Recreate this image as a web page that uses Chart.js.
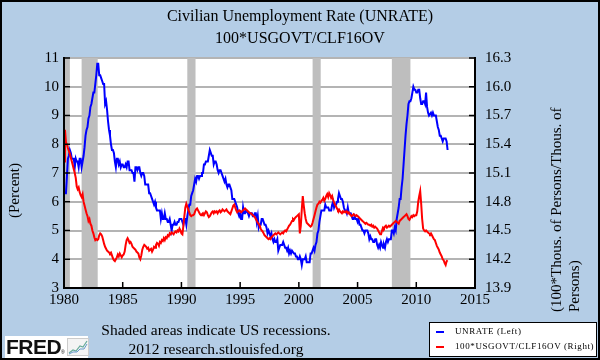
<!DOCTYPE html>
<html>
<head>
<meta charset="utf-8">
<script src="https://cdn.jsdelivr.net/npm/chart.js@4.4.1/dist/chart.umd.min.js"></script>
<style>
  body { margin: 0; }
  #wrap { position: relative; width: 600px; height: 360px; background: #B4CDE6; overflow: hidden; font-family: 'Liberation Serif', 'Times New Roman', serif; color: #000; }
  #chart { position: absolute; left: 0; top: 0; }
  .txt { position: absolute; white-space: nowrap; }
  #title { left: 0; top: 5px; width: 600px; text-align: center; font-size: 16px; line-height: 22px; }
  .vert { writing-mode: vertical-rl; transform: rotate(180deg); font-size: 15px; line-height: 18px; }
  #ytitle { left: 5px; top: 150px; width: 18px; height: 82px; text-align: center; }
  #y2title { left: 547px; top: 80px; width: 36px; height: 232px; text-align: left; }
  #note { left: 91px; top: 320px; width: 250px; text-align: center; font-size: 15.5px; line-height: 19px; }
  #legend { position: absolute; left: 429px; top: 322px; width: 166px; height: 33px; background: #fff; border: 1px solid #000; font-size: 9px; }
  .item { position: absolute; left: 6px; white-space: nowrap; letter-spacing: 0.6px; }
  .item span { display: inline-block; width: 8px; height: 2px; margin-right: 11px; vertical-align: middle; }
  #fred { position: absolute; left: 5px; top: 336px; width: 83px; height: 22px; background: #fff; }
  #fred b { position: absolute; left: 1px; top: 0; font: bold 21px 'Liberation Sans', Arial, sans-serif; line-height: 22px; letter-spacing: -0.5px; color: #111; }
  #fred i { position: absolute; left: 56px; top: 13px; font: 5px 'Liberation Sans', sans-serif; font-style: normal; }
  #fred svg { position: absolute; left: 62px; top: 2px; }
  #frame { position: absolute; left: 0; top: 0; width: 600px; height: 360px; box-sizing: border-box; border: 2px solid #000; pointer-events: none; }
</style>
</head>
<body>
<div id="wrap">
  <canvas id="chart" width="600" height="360"></canvas>
  <div id="title" class="txt">Civilian Unemployment Rate (UNRATE)<br>100*USGOVT/CLF16OV</div>
  <div id="ytitle" class="txt vert">(Percent)</div>
  <div id="y2title" class="txt vert">(100*Thous. of Persons/Thous. of<br>Persons)</div>
  <div id="note" class="txt">Shaded areas indicate US recessions.<br>2012 research.stlouisfed.org</div>
  <div id="legend"></div>
  <div id="fred"><b>FRED</b><i>&reg;</i>
    <svg width="22" height="18" viewBox="0 0 22 18">
      <rect x="0.5" y="0.5" width="21" height="17" fill="#f4f4f4" stroke="#ccc"/>
      <polyline points="2,15 6,12 9,13 13,8 16,9 20,3" fill="none" stroke="#6a9" stroke-width="1.2"/>
      <polyline points="2,16 6,14 10,14 13,11 17,11 20,6" fill="none" stroke="#69c" stroke-width="1"/>
    </svg>
  </div>
  <div id="frame"></div>
</div>
<script>
// Monthly data, Jan 1980 - Sep 2012
const startYear = 1980;

// UNRATE, percent (left axis)
const unrate = [
  6.3, 6.3, 6.3, 6.9, 7.5, 7.6, 7.8, 7.7, 7.5, 7.5, 7.5, 7.2,
  7.5, 7.4, 7.4, 7.2, 7.5, 7.5, 7.2, 7.4, 7.6, 7.9, 8.3, 8.5,
  8.6, 8.9, 9.0, 9.3, 9.4, 9.6, 9.8, 9.8, 10.1, 10.4, 10.8, 10.8,
  10.4, 10.4, 10.3, 10.2, 10.1, 10.1, 9.4, 9.5, 9.2, 8.8, 8.5, 8.3,
  8.0, 7.8, 7.8, 7.7, 7.4, 7.2, 7.5, 7.5, 7.3, 7.4, 7.2, 7.3,
  7.3, 7.2, 7.2, 7.3, 7.2, 7.4, 7.4, 7.1, 7.1, 7.1, 7.0, 7.0,
  6.7, 7.2, 7.2, 7.1, 7.2, 7.2, 7.0, 6.9, 7.0, 7.0, 6.9, 6.6,
  6.6, 6.6, 6.6, 6.3, 6.3, 6.2, 6.1, 6.0, 5.9, 6.0, 5.8, 5.7,
  5.7, 5.7, 5.7, 5.4, 5.6, 5.4, 5.4, 5.6, 5.4, 5.4, 5.3, 5.3,
  5.4, 5.2, 5.0, 5.2, 5.2, 5.3, 5.2, 5.2, 5.3, 5.3, 5.4, 5.4,
  5.4, 5.3, 5.2, 5.4, 5.4, 5.2, 5.5, 5.7, 5.9, 5.9, 6.2, 6.3,
  6.4, 6.6, 6.8, 6.7, 6.9, 6.9, 6.8, 6.9, 6.9, 7.0, 7.0, 7.3,
  7.3, 7.4, 7.4, 7.4, 7.6, 7.8, 7.7, 7.6, 7.6, 7.3, 7.4, 7.4,
  7.3, 7.1, 7.0, 7.1, 7.1, 7.0, 6.9, 6.8, 6.7, 6.8, 6.6, 6.5,
  6.6, 6.6, 6.5, 6.4, 6.1, 6.1, 6.1, 6.0, 5.9, 5.8, 5.6, 5.5,
  5.6, 5.4, 5.4, 5.8, 5.6, 5.6, 5.7, 5.7, 5.6, 5.5, 5.6, 5.6,
  5.6, 5.5, 5.5, 5.6, 5.6, 5.3, 5.5, 5.1, 5.2, 5.2, 5.4, 5.4,
  5.3, 5.2, 5.2, 5.1, 4.9, 5.0, 4.9, 4.8, 4.9, 4.7, 4.6, 4.7,
  4.6, 4.6, 4.7, 4.3, 4.4, 4.5, 4.5, 4.5, 4.6, 4.5, 4.4, 4.4,
  4.3, 4.4, 4.2, 4.3, 4.2, 4.3, 4.3, 4.2, 4.2, 4.1, 4.1, 4.0,
  4.0, 4.1, 4.0, 3.8, 4.0, 4.0, 4.0, 4.1, 3.9, 3.9, 3.9, 3.9,
  4.2, 4.2, 4.3, 4.4, 4.3, 4.5, 4.6, 4.9, 5.0, 5.3, 5.5, 5.7,
  5.7, 5.7, 5.7, 5.9, 5.8, 5.8, 5.8, 5.7, 5.7, 5.7, 5.9, 6.0,
  5.8, 5.9, 5.9, 6.0, 6.1, 6.3, 6.2, 6.1, 6.1, 6.0, 5.8, 5.7,
  5.7, 5.6, 5.8, 5.6, 5.6, 5.6, 5.5, 5.4, 5.4, 5.5, 5.4, 5.4,
  5.3, 5.4, 5.2, 5.2, 5.1, 5.0, 5.0, 4.9, 5.0, 5.0, 5.0, 4.9,
  4.7, 4.8, 4.7, 4.7, 4.6, 4.6, 4.7, 4.7, 4.5, 4.4, 4.5, 4.4,
  4.6, 4.5, 4.4, 4.5, 4.4, 4.6, 4.7, 4.6, 4.7, 4.7, 4.7, 5.0,
  5.0, 4.9, 5.1, 5.0, 5.4, 5.6, 5.8, 6.1, 6.1, 6.5, 6.8, 7.3,
  7.8, 8.3, 8.7, 9.0, 9.4, 9.5, 9.5, 9.6, 9.8, 10.0, 9.9, 9.9,
  9.8, 9.8, 9.9, 9.9, 9.6, 9.4, 9.4, 9.5, 9.5, 9.4, 9.8, 9.3,
  9.1, 9.0, 9.0, 9.1, 9.0, 9.1, 9.0, 9.0, 9.0, 8.8, 8.6, 8.5,
  8.3, 8.3, 8.2, 8.1, 8.2, 8.2, 8.2, 8.1, 7.8
];

// 100*USGOVT/CLF16OV (right axis)
const govShare = [
  15.22, 15.55, 15.42, 15.40, 15.36, 15.33, 15.30, 15.26, 15.22, 15.18, 15.14, 15.10,
  15.05, 14.96, 14.93, 14.95, 14.90, 14.87, 14.85, 14.88, 14.80, 14.76, 14.72, 14.68,
  14.65, 14.60, 14.62, 14.57, 14.55, 14.50, 14.47, 14.43, 14.40, 14.41, 14.40, 14.41,
  14.45, 14.47, 14.46, 14.44, 14.40, 14.36, 14.33, 14.31, 14.29, 14.28, 14.27, 14.26,
  14.27, 14.24, 14.21, 14.19, 14.18, 14.20, 14.22, 14.25, 14.23, 14.26, 14.24, 14.22,
  14.24, 14.25, 14.28, 14.35, 14.40, 14.42, 14.40, 14.37, 14.38, 14.36, 14.33, 14.32,
  14.31, 14.30, 14.28, 14.27, 14.26, 14.22, 14.20, 14.24, 14.30, 14.33, 14.35, 14.34,
  14.33, 14.31, 14.32, 14.29, 14.30, 14.31, 14.28, 14.30, 14.33, 14.32, 14.35, 14.37,
  14.36, 14.34, 14.38, 14.37, 14.40, 14.39, 14.42, 14.40, 14.43, 14.42, 14.45, 14.44,
  14.47, 14.46, 14.48, 14.47, 14.46, 14.48, 14.49, 14.48, 14.50, 14.49, 14.52, 14.50,
  14.47, 14.46, 14.55, 14.65, 14.74, 14.78, 14.75, 14.72, 14.69, 14.66, 14.65, 14.66,
  14.66, 14.67, 14.70, 14.72, 14.73, 14.71, 14.69, 14.67, 14.66, 14.67, 14.68, 14.66,
  14.68, 14.70, 14.69, 14.66, 14.64, 14.65, 14.67, 14.69, 14.70, 14.68, 14.70, 14.69,
  14.70, 14.68, 14.70, 14.71, 14.69, 14.70, 14.72, 14.71, 14.70, 14.71, 14.72, 14.70,
  14.69, 14.68, 14.67, 14.70, 14.73, 14.76, 14.77, 14.74, 14.71, 14.69, 14.70, 14.71,
  14.70, 14.69, 14.70, 14.71, 14.72, 14.73, 14.72, 14.71, 14.70, 14.69, 14.68, 14.68,
  14.67, 14.66, 14.65, 14.64, 14.62, 14.60, 14.58, 14.57, 14.55, 14.52, 14.50, 14.49,
  14.47, 14.45, 14.44, 14.43, 14.42, 14.41, 14.42, 14.41, 14.43, 14.44, 14.45, 14.46,
  14.47, 14.46, 14.47, 14.48, 14.47, 14.46, 14.47, 14.48, 14.47, 14.49, 14.50, 14.49,
  14.51, 14.53, 14.55, 14.56, 14.58, 14.60, 14.62, 14.61, 14.63, 14.64, 14.65, 14.66,
  14.67, 14.47, 14.55, 14.72, 14.86, 14.76, 14.68, 14.62, 14.58, 14.57, 14.56, 14.55,
  14.54, 14.55, 14.58, 14.62, 14.66, 14.70, 14.74, 14.77, 14.78, 14.80, 14.79, 14.81,
  14.82, 14.84, 14.81, 14.83, 14.86, 14.88, 14.85, 14.89, 14.87, 14.84, 14.86, 14.82,
  14.79, 14.77, 14.75, 14.73, 14.71, 14.72, 14.70, 14.69, 14.68, 14.70, 14.69, 14.70,
  14.69, 14.70, 14.68, 14.69, 14.67, 14.66, 14.65, 14.66, 14.67, 14.66, 14.65, 14.66,
  14.65, 14.64, 14.63, 14.62, 14.61, 14.60, 14.59, 14.58, 14.57, 14.58, 14.57, 14.56,
  14.56, 14.55, 14.56, 14.54, 14.55, 14.53, 14.54, 14.53, 14.52, 14.50, 14.48, 14.46,
  14.46, 14.50, 14.53, 14.52, 14.54, 14.55, 14.53, 14.54, 14.55, 14.54, 14.55, 14.56,
  14.57, 14.58, 14.59, 14.60, 14.59, 14.58, 14.57, 14.60, 14.61, 14.62, 14.63, 14.64,
  14.65, 14.66, 14.67, 14.65, 14.62, 14.61, 14.63, 14.65, 14.64, 14.66, 14.65, 14.66,
  14.66, 14.70, 14.80, 14.86, 14.91, 14.78, 14.62, 14.52, 14.50, 14.49, 14.50, 14.49,
  14.48, 14.47, 14.46, 14.47, 14.45, 14.43, 14.41, 14.40, 14.37, 14.34, 14.32, 14.30,
  14.27, 14.25, 14.23, 14.20, 14.19, 14.16, 14.14, 14.18, 14.19
];

// recessions (decimal years)
const recStart = [1980.0, 1981.5, 1990.5, 2001.17, 2007.92];
const recEnd = [1980.5, 1982.87, 1991.2, 2001.86, 2009.5];

const yearTicks = [1980, 1985, 1990, 1995, 2000, 2005, 2010, 2015];
const leftTicks = [3, 4, 5, 6, 7, 8, 9, 10, 11];
const rightTicks = [13.9, 14.2, 14.5, 14.8, 15.1, 15.4, 15.7, 16.0, 16.3];

const seriesNames = ['UNRATE (Left)', '100*USGOVT/CLF16OV (Right)'];
const seriesColors = ['#0000FF', '#FF0000'];

const toPoints = arr => arr.map((v, i) => ({ x: startYear + i / 12, y: v }));
const tickFont = { family: "'Liberation Serif', 'Times New Roman', serif", size: 15 };

// white plot area, recession bars, inward tick marks
const framePlugin = {
    id: 'frame',
    beforeDraw(chart) {
        const { ctx, chartArea: a } = chart;
        ctx.save();
        ctx.fillStyle = '#fff';
        ctx.fillRect(a.left, a.top, a.right - a.left, a.bottom - a.top);
        ctx.restore();
    },
    beforeDatasetsDraw(chart) {
        const { ctx, chartArea: a, scales: { x } } = chart;
        ctx.save();
        ctx.fillStyle = '#BEBEBE';
        recStart.forEach((s, i) => {
            const x0 = x.getPixelForValue(s);
            const x1 = x.getPixelForValue(recEnd[i]);
            ctx.fillRect(x0, a.top, x1 - x0, a.bottom - a.top);
        });
        ctx.restore();
    },
    afterDraw(chart) {
        const { ctx, chartArea: a, scales } = chart;
        ctx.save();
        ctx.strokeStyle = '#000';
        ctx.lineWidth = 1.5;
        ctx.beginPath();
        scales.y.ticks.forEach(t => {
            const p = scales.y.getPixelForValue(t.value);
            ctx.moveTo(a.left, p); ctx.lineTo(a.left + 6, p);
        });
        scales.y2.ticks.forEach(t => {
            const p = scales.y2.getPixelForValue(t.value);
            ctx.moveTo(a.right - 6, p); ctx.lineTo(a.right, p);
        });
        scales.x.ticks.forEach(t => {
            const p = scales.x.getPixelForValue(t.value);
            ctx.moveTo(p, a.bottom); ctx.lineTo(p, a.bottom - 6);
        });
        ctx.stroke();
        ctx.restore();
    }
};

new Chart(document.getElementById('chart'), {
    type: 'line',
    data: {
        datasets: [
            { label: seriesNames[0], data: toPoints(unrate), borderColor: seriesColors[0], borderWidth: 2, pointRadius: 0, tension: 0, yAxisID: 'y', order: 1 },
            { label: seriesNames[1], data: toPoints(govShare), borderColor: seriesColors[1], borderWidth: 2, pointRadius: 0, tension: 0, yAxisID: 'y2', order: 0 }
        ]
    },
    options: {
        responsive: false,
        animation: false,
        layout: { padding: { top: 58, left: 0, right: 0, bottom: 0 } },
        plugins: { legend: { display: false }, tooltip: { enabled: false } },
        scales: {
            x: {
                type: 'linear', min: 1980, max: 2015,
                afterBuildTicks: s => { s.ticks = yearTicks.map(v => ({ value: v })); },
                afterFit: s => { s.height = 72; },
                grid: { display: false, drawTicks: false },
                border: { display: true, color: '#000', width: 2, z: 1 },
                ticks: { font: tickFont, color: '#000', padding: 3, maxRotation: 0, autoSkip: false, callback: v => String(v) }
            },
            y: {
                position: 'left', min: 3, max: 11,
                afterBuildTicks: s => { s.ticks = leftTicks.map(v => ({ value: v })); },
                afterFit: s => { s.width = 64; },
                grid: { color: '#B4B4B4', lineWidth: 2, drawTicks: false },
                border: { display: true, color: '#000', width: 2, z: 1 },
                ticks: { font: tickFont, color: '#000', padding: 5, callback: v => String(v) }
            },
            y2: {
                position: 'right', min: 13.9, max: 16.3,
                afterBuildTicks: s => { s.ticks = rightTicks.map(v => ({ value: v })); },
                afterFit: s => { s.width = 125; },
                grid: { display: false, drawTicks: false },
                border: { display: true, color: '#000', width: 2, z: 1 },
                ticks: { font: tickFont, color: '#000', padding: 10, callback: v => Number(v).toFixed(1) }
            }
        }
    },
    plugins: [framePlugin]
});

// legend box
const legendEl = document.getElementById('legend');
seriesNames.forEach((name, i) => {
    const div = document.createElement('div');
    div.className = 'item';
    div.style.top = (i === 0 ? 3 : 18) + 'px';
    div.innerHTML = `<span style="background:${seriesColors[i]}"></span>${name}`;
    legendEl.appendChild(div);
});
</script>
</body>
</html>
